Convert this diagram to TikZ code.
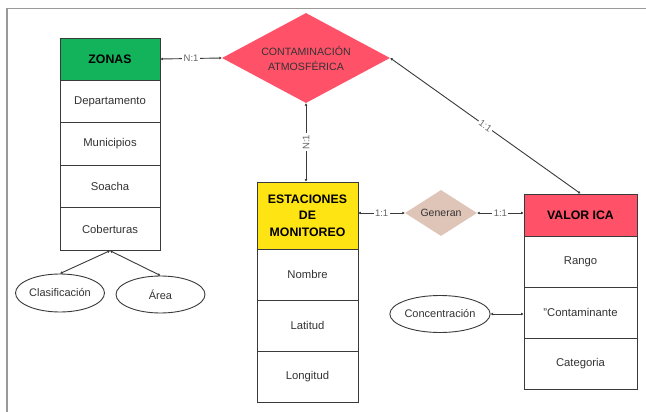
\documentclass[tikz,border=0pt]{standalone}
\usepackage{fontspec}
\setmainfont{Liberation Sans}
\usetikzlibrary{shapes.geometric,arrows.meta}
\definecolor{zgreen}{HTML}{12B35B}
\definecolor{eyellow}{HTML}{FFE414}
\definecolor{vred}{HTML}{FF5269}
\definecolor{tan}{HTML}{DFC4B8}
\definecolor{linec}{HTML}{3A3A3A}
\definecolor{txt}{HTML}{333333}
\tikzset{
  cell/.style={draw=linec, line width=0.9pt, rectangle, inner sep=0pt, fill=white,
    text=txt, font=\fontsize{11.3}{13}\selectfont},
  head/.style={cell, text=black, font=\bfseries\fontsize{12.3}{16.7}\selectfont, align=center},
  attr/.style={draw=linec, line width=0.9pt, ellipse, inner sep=0pt, fill=white,
    text=txt, font=\fontsize{11}{13}\selectfont},
  rel/.style={diamond, inner sep=0pt, text=txt, align=center},
  conn/.style={draw=linec, line width=0.9pt, {Latex[length=2.5pt,width=3pt]}-{Latex[length=2.5pt,width=3pt]}},
  card/.style={fill=white, inner sep=1.5pt, text=txt!75, font=\fontsize{9.5}{11}\selectfont},
}
\begin{document}
\begin{tikzpicture}[x=1pt,y=-1pt]
\useasboundingbox (0,0) rectangle (646,412);
\fill[white] (0,0) rectangle (646,412);
% frame
\draw[draw=gray!80, line width=1.5pt] (7,412) -- (7,8.5) -- (646,8.5);

% ZONAS
\node[head, fill=zgreen, minimum width=100, minimum height=42] (zonas) at (110,59) {ZONAS};
\node[cell, minimum width=100, minimum height=42.5] (dep) at (110,101.5) {Departamento};
\node[cell, minimum width=100, minimum height=42.5] (mun) at (110,144) {Municipios};
\node[cell, minimum width=100, minimum height=42.5] (soa) at (110,186.5) {Soacha};
\node[cell, minimum width=100, minimum height=42.5] (cob) at (110,229) {Coberturas};

\node[attr, minimum width=89, minimum height=38] (clas) at (60,293) {Clasificación};
\node[attr, minimum width=89, minimum height=37] (area) at (160.5,294.5) {Área};

% CONTAMINACION
\node[rel, fill=vred, minimum width=168, minimum height=90, aspect=1.87,
  font=\fontsize{10.6}{15}\selectfont] (cont) at (306,58) {CONTAMINACIÓN\\ATMOSFÉRICA};

% ESTACIONES
\node[head, fill=eyellow, minimum width=101, minimum height=67] (est) at (307.5,215.5) {ESTACIONES\\DE\\MONITOREO};
\node[cell, minimum width=101, minimum height=51] (nom) at (307.5,274.5) {Nombre};
\node[cell, minimum width=101, minimum height=51] (lat) at (307.5,325.5) {Latitud};
\node[cell, minimum width=101, minimum height=51] (lon) at (307.5,376.5) {Longitud};

% Generan
\node[rel, fill=tan, minimum width=72, minimum height=46, aspect=1.57,
  font=\fontsize{10.5}{12}\selectfont] (gen) at (441,213) {Generan};

% VALOR ICA
\node[head, fill=vred, minimum width=113, minimum height=42] (ica) at (580.5,215) {VALOR ICA};
\node[cell, minimum width=113, minimum height=51] (ran) at (580.5,261.5) {Rango};
\node[cell, minimum width=113, minimum height=51] (con) at (580.5,312.5) {"Contaminante};
\node[cell, minimum width=113, minimum height=51] (cat) at (580.5,363.5) {Categoria};

\node[attr, minimum width=97, minimum height=37] (conc) at (440,314) {Concentración};

% connectors
\draw[conn] (zonas.east) -- node[card] {N:1} (cont.west);
\draw[conn] (cont.south) -- node[card, rotate=90] {N:1} (cont.south |- est.north);
\draw[conn] (cont.east) -- node[card, sloped] {1:1} (ica.north);
\draw[conn] (gen.west -| est.east) -- node[card] {1:1} (gen.west);
\draw[conn] (gen.east) -- node[card] {1:1} (gen.east -| ica.west);
\draw[conn] (conc.east) -- (conc.east -| con.west);
\draw[conn] (cob.south) -- (clas.north);
\draw[conn] (cob.south) -- (area.north);
\end{tikzpicture}
\end{document}
